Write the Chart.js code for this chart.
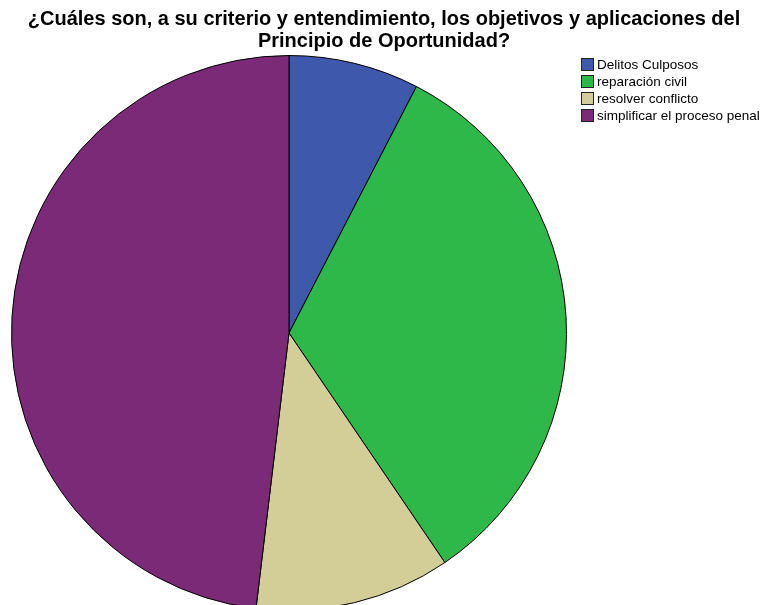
<!DOCTYPE html>
<html>
<head>
<meta charset="utf-8">
<script src="https://cdn.jsdelivr.net/npm/chart.js@4"></script>
<style>
  html, body { margin: 0; padding: 0; background: #fff; overflow: hidden; }
  #wrap { width: 764px; height: 612px; position: relative; }
  #title { position: absolute; left: 0; top: 7px; width: 768px; text-align: center; font: bold 20px 'Liberation Sans', Arial, sans-serif; line-height: 22px; color: #000; }
  #legend { position: absolute; left: 581px; top: 56px; font: 13.5px 'Liberation Sans', Arial, sans-serif; color: #000; }
  #legend div { height: 17px; line-height: 17px; white-space: nowrap; }
  #legend span { display: inline-block; width: 11px; height: 11px; border: 1px solid #222; vertical-align: -2px; margin-right: 3px; }
</style>
</head>
<body>
<div id="wrap"><canvas id="myPieChart"></canvas><div id="title"></div><div id="legend"></div></div>
<script>
// answers and counts
const labels = ['Delitos Culposos', 'reparación civil', 'resolver conflicto', 'simplificar el proceso penal'];
const counts = [6, 26, 9, 38];
const colors = ['#3e58ac', '#2eb84a', '#d3ce97', '#7a2a77'];
const titleLines = [
    '¿Cuáles son, a su criterio y entendimiento, los objetivos y aplicaciones del',
    'Principio de Oportunidad?'
];

const ctx = document.getElementById('myPieChart').getContext('2d');

const myPieChart = new Chart(ctx, {
    type: 'pie',
    data: {
        labels,
        datasets: [{
            data: counts,
            backgroundColor: colors,
            borderColor: '#000',
            borderWidth: 1,
        }],
    },
    options: {
        responsive: true,
        maintainAspectRatio: false,
        animation: false,
        // room for the title above and the legend on the right
        layout: { padding: { top: 55, bottom: 1, left: 0, right: 186 } },
        plugins: {
            title: { display: false },
            legend: { display: false },
            tooltip: { enabled: false },
        },
    },
});

// title and legend as html text
document.getElementById('title').innerHTML = titleLines.join('<br>');
const legendBox = document.getElementById('legend');
labels.forEach((label, i) => {
    const row = document.createElement('div');
    row.innerHTML = `<span style="background:${colors[i]}"></span>${label}`;
    legendBox.appendChild(row);
});
</script>
</body>
</html>
